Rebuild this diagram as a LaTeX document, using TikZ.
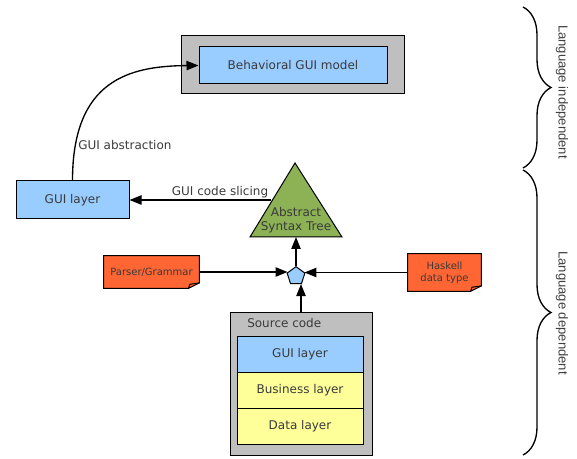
\documentclass[tikz,border=0pt]{standalone}
\usepackage{fontspec}
\setmainfont{DejaVu Sans}
\newfontfamily\bracefont{Liberation Sans}
\usetikzlibrary{arrows.meta,shapes.geometric,decorations.pathreplacing,backgrounds}
\definecolor{guiblue}{HTML}{99CCFF}
\definecolor{boxgray}{HTML}{BFBFBF}
\definecolor{layeryellow}{HTML}{FFFF99}
\definecolor{noteorange}{HTML}{FF6633}
\definecolor{astgreen}{HTML}{8DB255}
\definecolor{txt}{HTML}{3A3A3A}
\definecolor{bracetxt}{HTML}{404040}
\begin{document}
\begin{tikzpicture}[x=0.75pt,y=-0.75pt,
  box/.style={draw=black, line width=0.75pt, inner sep=0pt, text=txt, font=\fontsize{9}{10.5}\selectfont},
  lbl/.style={inner sep=0pt, text=txt, font=\fontsize{9}{10.5}\selectfont},
  smalllbl/.style={inner sep=0pt, text=txt, font=\fontsize{7.5}{9}\selectfont, align=center},
  notestyle/.style={draw=black, line width=0.75pt, fill=noteorange},
  arr/.style={line width=1pt, -{Triangle[length=9pt,width=7pt]}},
  bracestyle/.style={decorate, decoration={brace, amplitude=21pt}, line width=1pt},
  bracelbl/.style={inner sep=0pt, text=bracetxt, font=\fontsize{9.8}{11}\selectfont\bracefont}]
\useasboundingbox (0,0) rectangle (577,459);

% Behavioral GUI model
\node[box, fill=boxgray, minimum width=167.25pt, minimum height=43.5pt] (bouter) at (292.5,65) {};
\node[box, fill=guiblue, minimum width=141pt, minimum height=27.75pt] (bgm) at (293,65.5) {Behavioral GUI model};

% GUI layer
\node[box, fill=guiblue, minimum width=84.75pt, minimum height=28.5pt] (gui) at (72.5,200) {GUI layer};
\draw[arr] (gui.north) .. controls +(0,-101) and (130,66) .. (bgm.west);
\node[lbl, anchor=west] (lab1) at (78,145) {GUI abstraction};

% Abstract syntax tree
\coordinate (apex) at (295,163);
\coordinate (bl) at (250,237);
\coordinate (br) at (342,237);
\draw[line width=0.75pt, fill=astgreen] (apex) -- (br) -- (bl) -- cycle;
\node[lbl, align=center] (ast) at (296,220) {Abstract\\Syntax Tree};
\coordinate (astbase) at (296,237);
\coordinate (astleft) at (271,200);
\draw[arr] (astleft) -- (gui.east);
\node[lbl] (lab2) at (220,192) {GUI code slicing};

% Pentagon
\node[draw, line width=0.75pt, fill=guiblue, regular polygon, regular polygon sides=5, minimum size=14pt, inner sep=0pt] (pent) at (296,276) {};
\draw[arr] (pent.north) -- (pent.north |- astbase);

% Notes
\node[smalllbl, minimum width=71.25pt, minimum height=24pt] (pg) at (151.5,272) {Parser/Grammar};
\node[smalllbl, minimum width=54.75pt, minimum height=27.75pt] (hs) at (444.5,272.5) {Haskell\\data type};
\begin{scope}[on background layer]
  \draw[notestyle] (pg.north west) -- (pg.north east) -- ([yshift=4pt]pg.south east) -- ([xshift=-8pt]pg.south east) -- (pg.south west) -- cycle;
  \draw[line width=0.75pt] ([yshift=4pt]pg.south east) -- ([xshift=-7pt,yshift=3pt]pg.south east) -- ([xshift=-8pt]pg.south east);
  \draw[notestyle] (hs.north west) -- (hs.north east) -- ([yshift=4pt]hs.south east) -- ([xshift=-8pt]hs.south east) -- (hs.south west) -- cycle;
  \draw[line width=0.75pt] ([yshift=4pt]hs.south east) -- ([xshift=-7pt,yshift=3pt]hs.south east) -- ([xshift=-8pt]hs.south east);
\end{scope}
\draw[arr] (pg.east) -- (pg.east -| pent.west);
\draw[arr] (hs.west) -- (hs.west -| pent.east);

% Source code
\node[box, fill=boxgray, minimum width=106.5pt, minimum height=107.25pt] (src) at (301,383.5) {};
\node[lbl, anchor=west] (srclab) at (247,323) {Source code};
\node[box, fill=guiblue, minimum width=94.5pt, minimum height=27pt] (l1) at (300,354) {GUI layer};
\node[box, fill=layeryellow, minimum width=94.5pt, minimum height=27pt] (l2) at (300,390) {Business layer};
\node[box, fill=layeryellow, minimum width=94.5pt, minimum height=27pt] (l3) at (300,426) {Data layer};
\draw[arr] (src.north) -- (src.north |- pent.south);

% Braces
\coordinate (b1s) at (523,7);
\coordinate (b1e) at (523,168);
\coordinate (b2s) at (523,170);
\coordinate (b2e) at (523,455);
\draw[bracestyle] (b1s) -- (b1e);
\draw[bracestyle] (b2s) -- (b2e);
\node[bracelbl, rotate=-90] (li) at (562,92) {Language independent};
\node[bracelbl, rotate=-90] (ld) at (562,313) {Language dependent};
\end{tikzpicture}
\end{document}
